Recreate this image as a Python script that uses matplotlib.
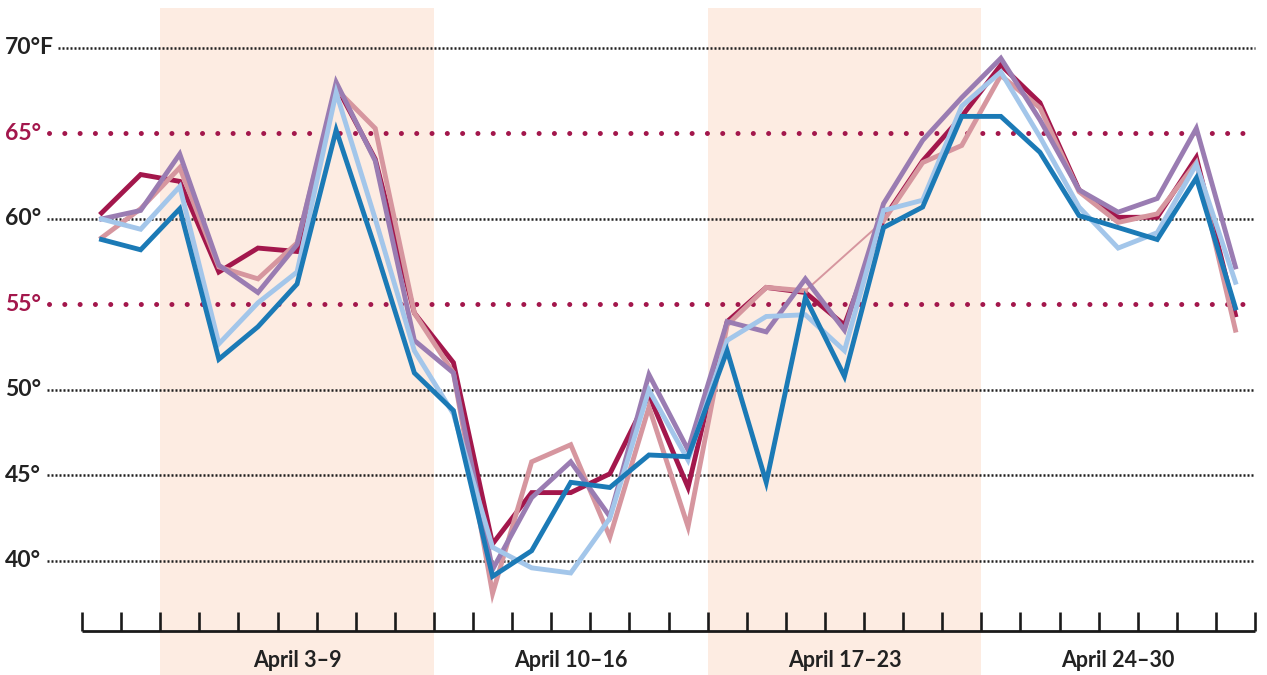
import matplotlib
matplotlib.use("Agg")
import matplotlib.pyplot as plt
import numpy as np

days = list(range(1, 31))
crimson = [60.35, 62.6, 62.2, 56.9, 58.3, 58.1, 67.8, 63.5, 54.5, 51.6,
           41.0, 44.0, 44.0, 45.1, 49.7, 44.3, 54.0, 56.0, 55.7, 53.8,
           60.0, 63.4, 66.0, 69.0, 66.8, 61.7, 60.1, 60.1, 63.6, 54.4]
pink = [58.9, 60.6, 63.0, 57.2, 56.5, 58.6, 67.6, 65.3, 54.5, 51.0,
        38.1, 45.8, 46.8, 41.4, 49.0, 42.0, 53.8, 56.0, 55.8, np.nan,
        59.9, 63.3, 64.3, 68.4, 66.5, 61.6, 59.8, 60.3, 63.3, 53.5]
purple = [60.0, 60.5, 63.8, 57.3, 55.7, 58.5, 68.0, 63.4, 52.9, 51.0,
          39.5, 43.7, 45.8, 42.6, 50.9, 46.5, 54.0, 53.4, 56.5, 53.5,
          60.9, 64.6, 67.1, 69.4, 65.8, 61.7, 60.4, 61.2, 65.3, 57.2]
lightblue = [60.0, 59.4, 61.9, 52.7, 55.1, 56.9, 67.4, 60.0, 52.3, 48.6,
             40.8, 39.6, 39.3, 42.5, 50.0, 45.9, 52.9, 54.3, 54.4, 52.3,
             60.5, 61.1, 66.6, 68.6, 64.8, 60.7, 58.3, 59.2, 63.2, 56.3]
blue = [58.8, 58.2, 60.6, 51.8, 53.7, 56.2, 65.2, 58.3, 51.0, 48.8,
        39.1, 40.6, 44.6, 44.3, 46.2, 46.1, 52.3, 44.6, 55.4, 50.8,
        59.5, 60.7, 66.0, 66.0, 63.9, 60.2, 59.5, 58.8, 62.4, 54.8]

series = [crimson, pink, purple, lightblue, blue]
colors = ["#a3174c", "#d6969f", "#9a7cb2", "#a3c6ea", "#1b7ab6"]

black_grid = [70, 60, 50, 45, 40]
red_grid = [65, 55]
ylabels = {70: "70°F", 65: "65°", 60: "60°", 55: "55°", 50: "50°", 45: "45°", 40: "40°"}
week_labels = ["April 3–9", "April 10–16", "April 17–23", "April 24–30"]
week_centers = [6, 13, 20, 27]
shaded_weeks = [(3, 9), (17, 23)]

# pixel geometry helpers (layout only)
W, H = 1267, 675
px0, dpx = 82.0, 39.1        # pixel of x=0.5, pixels per day
py70, dpy = 48.0, 17.1       # pixel of 70F, pixels per degree
def xd(px):
    return 0.5 + (px - px0) / dpx
def yd(py):
    return 70 - (py - py70) / dpy

fig = plt.figure(figsize=(W / 100, H / 100), dpi=100)
ax = fig.add_axes([0, 0, 1, 1])
ax.set_xlim(xd(0), xd(W))
ax.set_ylim(yd(H), yd(0))
ax.axis("off")

# shaded weeks
for a, b in shaded_weeks:
    ax.fill_between([a - 0.5, b + 0.5], yd(H), yd(8), color="#fdece2", lw=0, zorder=0)

# gridlines
for v in black_grid:
    start = xd(58) if v == 70 else xd(47)
    ax.plot([start, 30.5], [v, v], color="#1e1e1e", lw=1.8,
            linestyle=(0, (0.8, 0.8)), zorder=1)
for v in red_grid:
    ax.plot([xd(49), 30.5], [v, v], color="#a3174c", lw=3.6,
            linestyle=(0, (0.01, 3.05)), dash_capstyle="round", zorder=1)

# y labels
for v, t in ylabels.items():
    c = "#a3174c" if v in red_grid else "#222222"
    ax.text(xd(5), v, t, ha="left", va="center", fontsize=16.5,
            color=c, family="Lato", fontweight="bold", zorder=3)

# lines
for s, c in zip(series, colors):
    arr = np.array(s, dtype=float)
    d = np.array(days)
    m = ~np.isnan(arr)
    ax.plot(d[m], arr[m], color=c, lw=1.4, zorder=2, solid_joinstyle="miter")
    ax.plot(d, arr, color=c, lw=3.5, zorder=2, solid_joinstyle="miter")

# x axis
yax = yd(631)
ax.plot([0.5, 30.5], [yax, yax], color="#1a1a1a", lw=2.0, zorder=3,
        solid_capstyle="butt")
ticks = np.arange(0.5, 31, 1)
ax.vlines(ticks, yax, yd(612), color="#1a1a1a", lw=1.9, zorder=3)

for t, cx in zip(week_labels, week_centers):
    ax.text(cx, yd(661), t, ha="center", va="center", fontsize=15.5,
            color="#222222", family="Lato", fontweight="bold", zorder=3)

fig.savefig("out.png", dpi=100)
